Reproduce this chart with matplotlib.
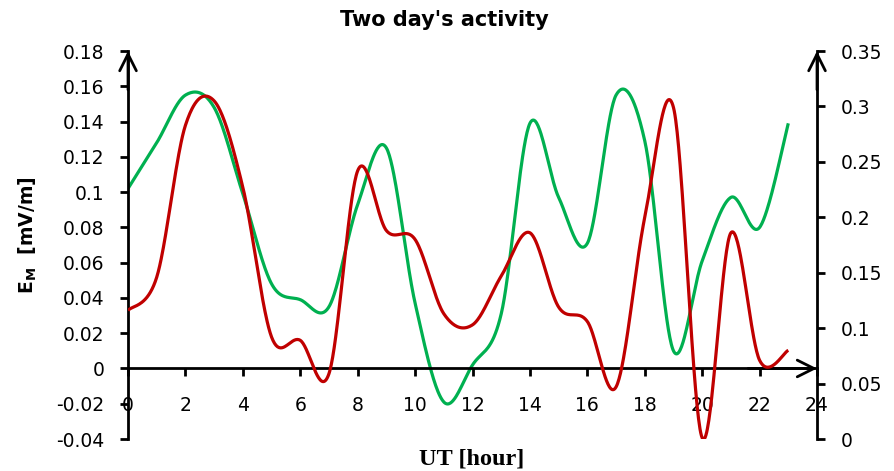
import matplotlib
matplotlib.use('Agg')
import matplotlib.pyplot as plt
import numpy as np

# hourly values
hours = list(range(24))
green_em = [0.102, 0.128, 0.155, 0.148, 0.099, 0.048, 0.039, 0.035, 0.093, 0.125,
            0.037, -0.019, 0.002, 0.031, 0.139, 0.097, 0.071, 0.155, 0.129, 0.010,
            0.061, 0.097, 0.080, 0.139]
red_em = [0.116, 0.146, 0.283, 0.305, 0.227, 0.092, 0.089, 0.059, 0.242, 0.188,
          0.180, 0.113, 0.103, 0.147, 0.186, 0.119, 0.106, 0.047, 0.200, 0.299,
          0.001, 0.186, 0.071, 0.080]

x_ticks = list(range(0, 25, 2))
left_ticks = [-0.04, -0.02, 0, 0.02, 0.04, 0.06, 0.08, 0.1, 0.12, 0.14, 0.16, 0.18]
right_ticks = [0, 0.05, 0.1, 0.15, 0.2, 0.25, 0.3, 0.35]

GREEN = '#00B050'
RED = '#C00000'


def smooth(x, y, n=40):
    # Excel-style smoothed line (Catmull-Rom through each point)
    p = np.column_stack([x, y]).astype(float)
    p = np.vstack([p[0], p, p[-1]])
    t = np.linspace(0, 1, n)[:, None]
    out = []
    for i in range(1, len(p) - 2):
        b0 = p[i]
        b1 = p[i] + (p[i + 1] - p[i - 1]) / 6
        b2 = p[i + 1] - (p[i + 2] - p[i]) / 6
        b3 = p[i + 1]
        seg = ((1 - t) ** 3) * b0 + 3 * ((1 - t) ** 2) * t * b1 + 3 * (1 - t) * t ** 2 * b2 + t ** 3 * b3
        out.append(seg)
    out = np.vstack(out)
    return out[:, 0], out[:, 1]


fig = plt.figure(figsize=(8.94, 4.71), dpi=100)
ax = fig.add_axes([0.1432, 0.0679, 0.7707, 0.8238])
ax2 = ax.twinx()

gx, gy = smooth(hours, green_em)
rx, ry = smooth(hours, red_em)
ax.plot(gx, gy, color=GREEN, lw=2.3, solid_capstyle='butt')
ax2.plot(rx, ry, color=RED, lw=2.3, solid_capstyle='butt')

ax.set_xlim(0, 24)
ax.set_ylim(-0.04, 0.18)
ax2.set_ylim(0, 0.35)

ax.set_xticks(x_ticks)
ax.set_xticklabels([str(v) for v in x_ticks])
ax.set_yticks(left_ticks)
ax.set_yticklabels(['{:g}'.format(v) for v in left_ticks])
ax2.set_yticks(right_ticks)
ax2.set_yticklabels(['{:g}'.format(v) for v in right_ticks])

for a in (ax, ax2):
    for s in a.spines.values():
        s.set_visible(False)
ax.spines['left'].set_visible(True)
ax.spines['bottom'].set_visible(True)
ax.spines['bottom'].set_position(('data', 0))
ax2.spines['right'].set_visible(True)
for s in (ax.spines['left'], ax.spines['bottom'], ax2.spines['right']):
    s.set_linewidth(2)

ax.tick_params(axis='y', length=6, width=2, pad=11, labelsize=13.5)
ax.tick_params(axis='x', length=6, width=2, pad=14, labelsize=13.5)
ax2.tick_params(axis='y', length=6, width=2, pad=11, labelsize=13.5)

arrow = dict(arrowstyle='->,head_length=0.6,head_width=0.3', lw=2, color='k',
             mutation_scale=20, shrinkA=0, shrinkB=0)
ax.annotate('', xy=(0, 1), xytext=(0, 0.9), xycoords='axes fraction', arrowprops=arrow)
ax2.annotate('', xy=(1, 1), xytext=(1, 0.9), xycoords='axes fraction', arrowprops=arrow)
y0 = 0.04 / 0.22
ax.annotate('', xy=(1, y0), xytext=(0.9, y0), xycoords='axes fraction', arrowprops=arrow)

fig.text(0.497, 0.957, "Two day's activity", ha='center', va='center',
         fontsize=15, fontweight='bold')
fig.text(0.031, 0.5, r'E$_\mathregular{M}$  [mV/m]', rotation=90, ha='center', va='center',
         fontsize=13.5, fontweight='bold')
fig.text(0.527, 0.026, 'UT [hour]', ha='center', va='center', fontsize=17.5,
         fontweight='bold', family='Liberation Serif')

fig.savefig('out.png', dpi=100)
